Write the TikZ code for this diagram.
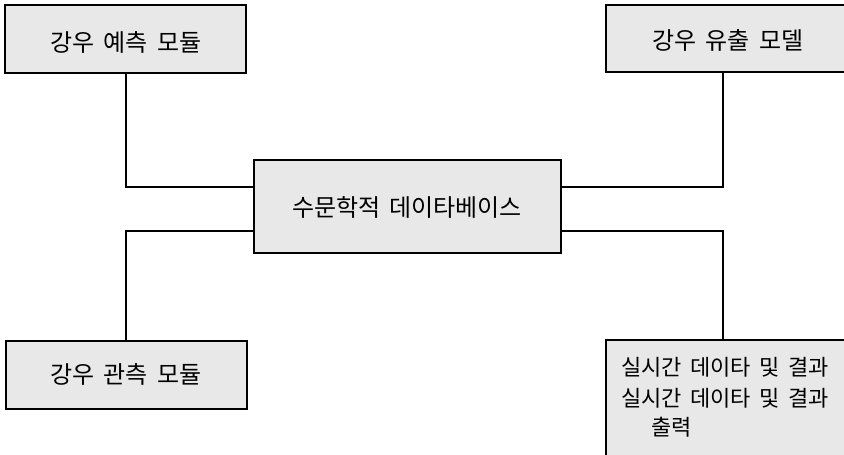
\documentclass[tikz,border=0pt]{standalone}
\usepackage{fontspec}
\newfontfamily\kr[WordSpace=1.7]{Noto Sans CJK KR}
\definecolor{boxfill}{gray}{0.91}
\tikzset{
  box/.style={draw=black, line width=1.4pt, fill=boxfill, rectangle, inner sep=0pt},
  lbl/.style={font=\kr\fontsize{24}{30}\selectfont, inner sep=0pt},
  lblsmall/.style={font=\kr\fontsize{22}{30}\selectfont, inner sep=0pt, anchor=west},
  link/.style={draw=black, line width=1.4pt}
}
\begin{document}
\begin{tikzpicture}[x=1pt,y=-1pt]
\clip (0,0) rectangle (844,455);
\fill[white] (0,0) rectangle (844,455);
% boxes
\node[box, minimum width=241pt, minimum height=68pt] (m1) at (125.5,39) {};
\node[box, minimum width=244pt, minimum height=67pt] (m2) at (728,38.5) {};
\node[box, minimum width=307pt, minimum height=93pt] (db) at (407.5,206.5) {};
\node[box, minimum width=241pt, minimum height=68pt] (m3) at (126.5,375) {};
\node[box, minimum width=244pt, minimum height=160pt] (m4) at (728,420) {};
% labels
\node[lbl] (t1) at (126,42) {강우 예측 모듈};
\node[lbl] (t2) at (728,40) {강우 유출 모델};
\node[lbl] (t3) at (407,207) {수문학적 데이타베이스};
\node[lbl] (t4) at (126,374) {강우 관측 모듈};
\node[lblsmall] (t5) at (621,367) {실시간 데이타 및 결과};
\node[lblsmall] (t6) at (621,398) {실시간 데이타 및 결과};
\node[lblsmall] (t7) at (651,427) {출력};
% connectors
\coordinate (jl1) at (126,187);
\coordinate (jl2) at (126,231);
\coordinate (jr1) at (723,187);
\coordinate (jr2) at (723,231);
\draw[link] (db.west |- jl1) -- (jl1) -- (jl1 |- m1.south);
\draw[link] (db.west |- jl2) -- (jl2) -- (jl2 |- m3.north);
\draw[link] (db.east |- jr1) -- (jr1) -- (jr1 |- m2.south);
\draw[link] (db.east |- jr2) -- (jr2) -- (jr2 |- m4.north);
\end{tikzpicture}
\end{document}
